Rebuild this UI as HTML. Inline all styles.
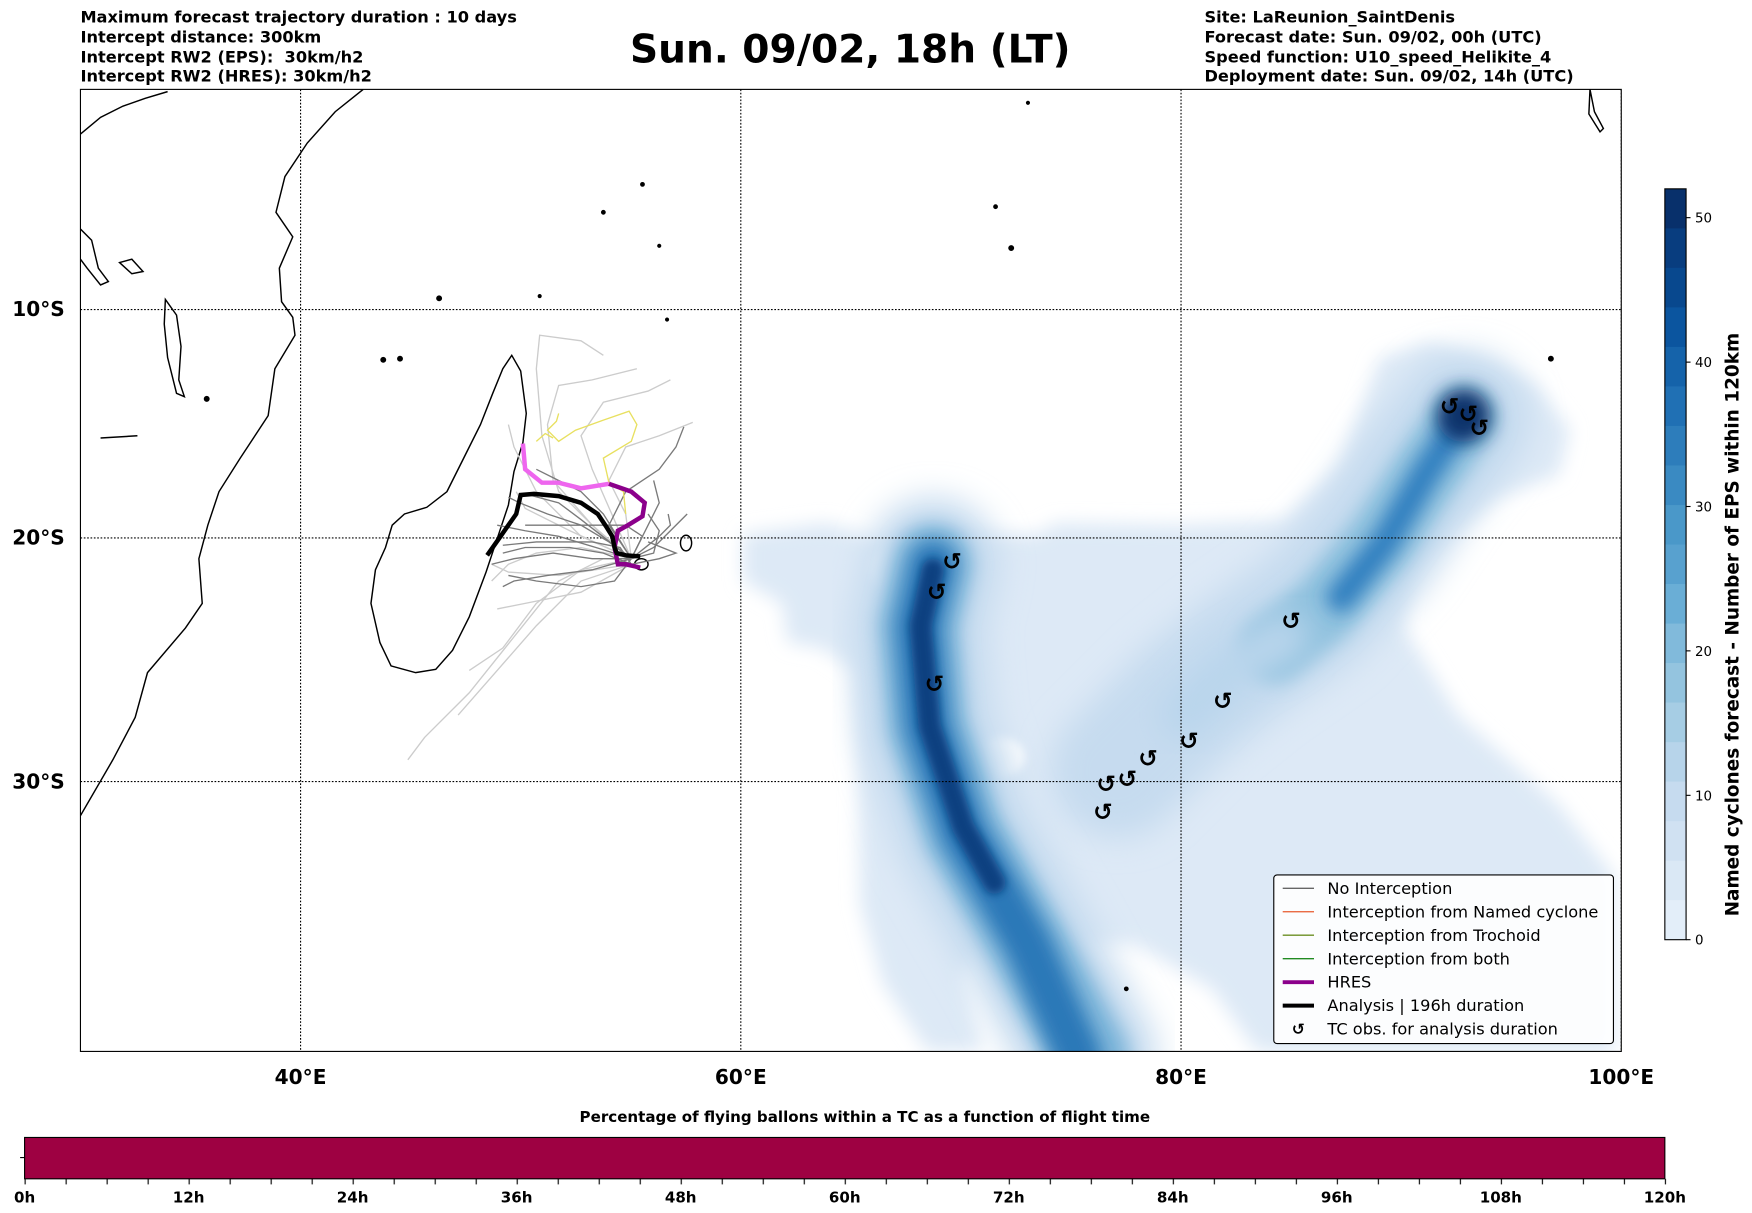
<!DOCTYPE html>
<html><head><meta charset="utf-8">
<style>
html,body{margin:0;padding:0;background:#fff;}
svg{display:block;font-family:"DejaVu Sans","Liberation Sans",sans-serif;}
</style></head>
<body>
<svg id="fig" width="1752" height="1213" viewBox="0 0 1568 1085.6" xmlns="http://www.w3.org/2000/svg">
<defs>
  <filter id="blur8" x="-50%" y="-50%" width="200%" height="200%"><feGaussianBlur stdDeviation="8"/></filter>
  <filter id="blur14" x="-50%" y="-50%" width="200%" height="200%"><feGaussianBlur stdDeviation="14"/></filter>
  <filter id="blur4" x="-50%" y="-50%" width="200%" height="200%"><feGaussianBlur stdDeviation="4"/></filter>
  <clipPath id="mapclip"><rect x="72" y="80" width="1379" height="861"/></clipPath>
  <pattern id="minorTicks" x="22" y="0" width="36.7" height="10" patternUnits="userSpaceOnUse">
    <line x1="0.5" y1="0" x2="0.5" y2="10" stroke="#000" stroke-width="1"/>
  </pattern>
</defs>

<g font-size="14.5" font-weight="bold">
  <text x="72" y="20">Maximum forecast trajectory duration : 10 days</text>
  <text x="72" y="38">Intercept distance: 300km</text>
  <text x="72" y="56" xml:space="preserve">Intercept RW2 (EPS):  30km/h2</text>
  <text x="72" y="73">Intercept RW2 (HRES): 30km/h2</text>
</g>
<text x="761" y="56" font-size="35" font-weight="bold" text-anchor="middle">Sun. 09/02, 18h (LT)</text>
<g font-size="14.5" font-weight="bold">
  <text x="1078" y="20">Site: LaReunion_SaintDenis</text>
  <text x="1078" y="38">Forecast date: Sun. 09/02, 00h (UTC)</text>
  <text x="1078" y="56">Speed function: U10_speed_Helikite_4</text>
  <text x="1078" y="73">Deployment date: Sun. 09/02, 14h (UTC)</text>
</g>

<g id="map" clip-path="url(#mapclip)">
  <rect x="72" y="80" width="1379" height="861" fill="#fff"/>
  <g>
    <path filter="url(#blur8)" fill="#dde9f6" d="M665,478 L740,468 L800,488 L835,478 L930,478 L945,468 L1060,470 L1150,465 L1200,415 L1235,320 L1280,306 L1335,325 L1375,345 L1405,385 L1395,425 L1340,445 L1300,475 L1265,505 L1255,560 L1305,640 L1395,720 L1445,785 L1445,941 L1125,941 L1085,885 L1015,845 L960,845 L900,820 L862,870 L880,941 L830,941 L790,880 L770,810 L768,700 L765,600 L735,580 L705,575 L700,540 L665,520 Z"/>
    <ellipse cx="895" cy="678" rx="22" ry="18" fill="#fff" filter="url(#blur4)"/>
    <ellipse cx="800" cy="510" rx="20" ry="22" fill="#fff" filter="url(#blur4)"/>
    <path filter="url(#blur14)" fill="none" stroke="#c6dbef" stroke-width="120" stroke-linecap="round" d="M1310,375 L1270,425 L1230,485 L1175,545 L1110,590 L1060,630 L1000,690"/>
    <path filter="url(#blur14)" fill="none" stroke="#c6dbef" stroke-width="120" stroke-linecap="round" d="M835,505 L822,560 L830,650 L862,745 L920,845 L975,945"/>
    <path filter="url(#blur8)" fill="none" stroke="#7fb6da" stroke-width="72" stroke-linecap="round" d="M835,505 L822,560 L830,650 L862,745 L920,845 L975,945"/>
    <path filter="url(#blur8)" fill="none" stroke="#2a78b8" stroke-width="42" stroke-linecap="round" d="M835,505 L822,560 L830,650 L862,745 L920,845 L965,945"/>
    <path filter="url(#blur4)" fill="none" stroke="#0a3f80" stroke-width="20" stroke-linecap="round" d="M835,510 L824,560 L832,650 L862,740 L890,790"/>
    <path filter="url(#blur8)" fill="none" stroke="#8fc1de" stroke-width="62" stroke-linecap="round" d="M1310,375 L1275,425 L1235,485 L1185,545 L1140,580"/>
    <path filter="url(#blur8)" fill="none" stroke="#3080c0" stroke-width="26" stroke-linecap="round" d="M1305,380 L1275,425 L1240,485 L1200,535"/>
    <circle cx="1310" cy="372" r="24" fill="#08306b" filter="url(#blur8)"/>
    <path filter="url(#blur14)" fill="none" stroke="#b9d5ec" stroke-width="44" stroke-linecap="round" d="M1150,570 L1100,600 L1060,640"/>
  </g>

  <g id="grid" stroke="#000" stroke-width="1" stroke-dasharray="1.5,1.5"></g>

  <g fill="none" stroke="#000" stroke-width="1.3">
    <path d="M325,80 L300,100 L275,128 L255,158 L247,190 L262,212 L250,240 L252,270 L262,284 L264,300 L246,330 L240,372 L215,410 L196,440 L186,470 L178,500 L181,540 L166,562 L132,602 L121,642 L101,680 L72,730"/>
    <path d="M458,318 L466,332 L471,370 L468,396 L460,422 L455,452 L445,482 L435,512 L420,552 L405,582 L390,599 L372,602 L350,596 L340,575 L332,540 L336,510 L345,490 L351,470 L362,460 L382,454 L400,440 L415,410 L430,380 L441,352 L450,330 Z"/>
    <path d="M72,205 L82,215 L88,240 L97,252 L90,255 L78,240 L72,232"/>
    <path d="M148,268 L158,282 L162,310 L160,340 L165,355 L158,352 L150,320 L147,290 Z"/>
    <path d="M107,235 L118,232 L128,243 L118,245 Z"/>
    <path d="M90,392 L123,390"/>
    <ellipse cx="614" cy="486" rx="5" ry="7"/>
    <ellipse cx="574" cy="505" rx="6" ry="5"/>
    <path d="M1423,80 L1427,100 L1435,115 L1432,118 L1422,102 Z"/>
    <path d="M72,120 L90,105 L110,95 L130,88 L150,82"/>
    <circle cx="1388" cy="321" r="2" fill="#000"/>
    <circle cx="891" cy="185" r="1.5" fill="#000"/>
    <circle cx="905" cy="222" r="2" fill="#000"/>
    <circle cx="920" cy="92" r="1.2" fill="#000"/>
    <circle cx="575" cy="165" r="1.5" fill="#000"/>
    <circle cx="540" cy="190" r="1.5" fill="#000"/>
    <circle cx="590" cy="220" r="1.2" fill="#000"/>
    <circle cx="343" cy="322" r="2" fill="#000"/>
    <circle cx="358" cy="321" r="2" fill="#000"/>
    <circle cx="393" cy="267" r="2" fill="#000"/>
    <circle cx="483" cy="265" r="1.2" fill="#000"/>
    <circle cx="597" cy="286" r="1.2" fill="#000"/>
    <circle cx="1008" cy="885" r="1.5" fill="#000"/>
    <circle cx="185" cy="357" r="2" fill="#000"/>
  </g>

  <g fill="none" stroke-width="1.2">
    <g stroke="#cccccc">
      <path d="M565,500 L540,480 L500,440 L485,390 L480,330 L483,300 L520,305 L540,318"/>
      <path d="M565,500 L530,470 L495,430 L490,380 L500,345 L530,340 L570,330"/>
      <path d="M565,500 L520,480 L480,440 L470,420 L460,400 L455,380"/>
      <path d="M565,500 L540,500 L500,520 L460,570 L420,620 L380,660 L365,680"/>
      <path d="M565,500 L520,510 L480,540 L450,580 L420,600"/>
      <path d="M565,505 L520,520 L480,560 L445,600 L410,640"/>
      <path d="M565,500 L560,460 L545,430 L560,400 L590,390 L615,380 L620,378"/>
      <path d="M565,500 L520,490 L480,495 L455,505 L440,520"/>
      <path d="M565,500 L510,475 L470,455 L462,440"/>
      <path d="M565,505 L500,515 L455,512 L440,505"/>
      <path d="M565,500 L530,420 L520,390 L540,360 L580,350 L600,340"/>
      <path d="M565,505 L520,530 L470,540 L445,545"/>
    </g>
    <g stroke="#7a7a7a">
      <path d="M565,500 L545,485 L520,470 L490,460 L465,450 L455,445"/>
      <path d="M565,500 L540,492 L500,480 L470,475 L445,470"/>
      <path d="M565,500 L530,500 L495,495 L460,500 L440,505"/>
      <path d="M565,500 L545,470 L560,440 L590,420 L605,400 L612,382"/>
      <path d="M565,500 L580,470 L590,450 L585,430"/>
      <path d="M565,500 L590,480 L600,470 L598,460"/>
      <path d="M565,500 L530,510 L490,515 L460,520 L450,525"/>
      <path d="M565,505 L540,495 L510,490 L470,490 L450,495"/>
      <path d="M565,500 L575,480 L560,470 L530,470 L500,470 L470,470"/>
      <path d="M565,500 L550,520 L520,525 L480,520 L455,515"/>
      <path d="M565,500 L540,460 L520,440 L500,430 L480,420"/>
      <path d="M565,500 L585,495 L590,475 L580,460"/>
      <path d="M565,505 L555,490 L530,485 L480,485 L450,488"/>
      <path d="M565,500 L520,465 L500,450 L470,442"/>
      <path d="M565,500 L585,490 L600,475 L615,460"/>
      <path d="M565,505 L590,500 L605,495 L580,485"/>
    </g>
    <path stroke="#e8e060" d="M560,460 L558,440 L545,432 L540,410 L565,395 L570,380 L563,368 L540,376 L515,385 L500,395 L490,385 L498,377 L500,370"/>
    <path stroke="#e8e060" d="M480,395 L488,388 L495,392"/>
  </g>
  <path fill="none" stroke="#ee66ee" stroke-width="4" d="M468,397 L470,420 L485,432 L500,432 L520,437 L545,433"/>
  <path fill="none" stroke="#8b008b" stroke-width="4" d="M545,433 L565,440 L577,450 L575,462 L562,470 L553,475 L550,490 L553,505 L560,505 L573,508"/>
  <path fill="none" stroke="#000" stroke-width="4" d="M436,497 L448,480 L462,460 L466,443 L478,442 L500,444 L520,450 L535,460 L543,472 L548,480 L550,490 L552,495 L560,497 L573,498"/>

  <g id="tcobs"></g>
</g>
<rect x="72" y="80" width="1379" height="861" fill="none" stroke="#000" stroke-width="1"/>
<g id="axislabels" font-size="18" font-weight="bold"></g>

<g font-size="14.5">
  <rect x="1140" y="783" width="304" height="151" rx="3" fill="#fff" fill-opacity="0.9" stroke="#000" stroke-width="1"/>
  <g><line x1="1148" y1="795" x2="1176" y2="795" stroke="#666" stroke-width="1.2"/><text x="1188" y="800">No Interception</text></g>
  <g><line x1="1148" y1="816" x2="1176" y2="816" stroke="#e8582c" stroke-width="1.2"/><text x="1188" y="821">Interception from Named cyclone</text></g>
  <g><line x1="1148" y1="837" x2="1176" y2="837" stroke="#6b8e23" stroke-width="1.2"/><text x="1188" y="842">Interception from Trochoid</text></g>
  <g><line x1="1148" y1="858" x2="1176" y2="858" stroke="#228b22" stroke-width="1.2"/><text x="1188" y="863">Interception from both</text></g>
  <g><line x1="1148" y1="879" x2="1176" y2="879" stroke="#8b008b" stroke-width="3.5"/><text x="1188" y="884">HRES</text></g>
  <g><line x1="1148" y1="900" x2="1176" y2="900" stroke="#000" stroke-width="3.5"/><text x="1188" y="905">Analysis | 196h duration</text></g>
  <g><text x="1162" y="926" font-weight="bold" font-size="14" text-anchor="middle">↺</text><text x="1188" y="926">TC obs. for analysis duration</text></g>
</g>

<g>
  <rect x="1490" y="169" width="19" height="36" fill="#08306b"/>
  <rect x="1490" y="204.4" width="19" height="36" fill="#083d7f"/>
  <rect x="1490" y="239.7" width="19" height="36" fill="#08488e"/>
  <rect x="1490" y="275.1" width="19" height="36" fill="#0b559f"/>
  <rect x="1490" y="310.5" width="19" height="36" fill="#1563aa"/>
  <rect x="1490" y="345.8" width="19" height="36" fill="#2070b4"/>
  <rect x="1490" y="381.2" width="19" height="36" fill="#2d7dbb"/>
  <rect x="1490" y="416.6" width="19" height="36" fill="#3a8ac2"/>
  <rect x="1490" y="452.0" width="19" height="36" fill="#4a98c9"/>
  <rect x="1490" y="487.3" width="19" height="36" fill="#58a1cf"/>
  <rect x="1490" y="522.7" width="19" height="36" fill="#6aaed6"/>
  <rect x="1490" y="558.1" width="19" height="36" fill="#81badb"/>
  <rect x="1490" y="593.4" width="19" height="36" fill="#94c4df"/>
  <rect x="1490" y="628.8" width="19" height="36" fill="#a6cde4"/>
  <rect x="1490" y="664.2" width="19" height="36" fill="#b7d4ea"/>
  <rect x="1490" y="699.5" width="19" height="36" fill="#c6dbef"/>
  <rect x="1490" y="734.9" width="19" height="36" fill="#d0e1f2"/>
  <rect x="1490" y="770.3" width="19" height="36" fill="#dae8f5"/>
  <rect x="1490" y="805.6" width="19" height="35.4" fill="#e3eef9"/>
  <rect x="1490" y="169" width="19" height="672" fill="none" stroke="#000" stroke-width="1"/>
  <g stroke="#000" stroke-width="1">
    <line x1="1509" y1="841" x2="1513" y2="841"/>
    <line x1="1509" y1="711.8" x2="1513" y2="711.8"/>
    <line x1="1509" y1="582.5" x2="1513" y2="582.5"/>
    <line x1="1509" y1="453.3" x2="1513" y2="453.3"/>
    <line x1="1509" y1="324.1" x2="1513" y2="324.1"/>
    <line x1="1509" y1="194.8" x2="1513" y2="194.8"/>
  </g>
  <g font-size="12">
    <text x="1517" y="845.5">0</text>
    <text x="1517" y="716.3">10</text>
    <text x="1517" y="587">20</text>
    <text x="1517" y="457.8">30</text>
    <text x="1517" y="328.6">40</text>
    <text x="1517" y="199.3">50</text>
  </g>
</g>
<text transform="translate(1556,559) rotate(-90)" font-size="16.5" font-weight="bold" text-anchor="middle">Named cyclones forecast - Number of EPS within 120km</text>

<text x="774" y="1004" font-size="13.5" font-weight="bold" text-anchor="middle">Percentage of flying ballons within a TC as a function of flight time</text>
<rect x="22" y="1018" width="1468" height="37" fill="#9e0142" stroke="#000" stroke-width="1"/>
<line x1="18" y1="1036" x2="22" y2="1036" stroke="#000"/>
<g>
  <rect x="21.5" y="1055" width="1470" height="5" fill="url(#minorTicks)"/>
  <g font-size="13.5" font-weight="bold" text-anchor="middle">
    <text x="22" y="1076">0h</text>
    <text x="168.8" y="1076">12h</text>
    <text x="315.6" y="1076">24h</text>
    <text x="462.4" y="1076">36h</text>
    <text x="609.2" y="1076">48h</text>
    <text x="756" y="1076">60h</text>
    <text x="902.8" y="1076">72h</text>
    <text x="1049.6" y="1076">84h</text>
    <text x="1196.4" y="1076">96h</text>
    <text x="1343.2" y="1076">108h</text>
    <text x="1490" y="1076">120h</text>
  </g>
</g>
</svg>

<script>
const lonTicks = [40, 60, 80, 100];
const latTicks = [10, 20, 30];
const tcLon = [92.2, 93.05, 93.55, 69.6, 68.9, 68.8, 85.0, 81.9, 80.36, 78.5, 77.56, 76.6, 76.45];
const tcLat = [14.3, 14.65, 15.25, 21.0, 22.3, 26.1, 23.5, 26.8, 28.4, 29.1, 29.9, 30.1, 31.2];

const NS = "http://www.w3.org/2000/svg";
function X(lon){ return 72 + (lon - 30) * 19.7; }
function Y(latS){ const r = latS * Math.PI / 180; const M = Math.log(Math.tan(Math.PI/4 + r/2)); return 277 + 1130 * (M - 0.17543); }
function mk(tag, attrs, parent){ const e = document.createElementNS(NS, tag); for (const k in attrs) e.setAttribute(k, String(attrs[k])); parent.appendChild(e); return e; }

const grid = document.getElementById('grid');
lonTicks.forEach(function(l){
  const ln = mk('line', {x1: X(l), x2: X(l), y1: 80, y2: 941}, grid);
  
  
});
latTicks.forEach(function(l){
  const ln = mk('line', {x1: 72, x2: 1451, y1: Y(l), y2: Y(l)}, grid);
  
  
});
const al = document.getElementById('axislabels');
lonTicks.forEach(function(l){
  const t = mk('text', {x: X(l), y: 970, 'text-anchor': 'middle'}, al);
  t.textContent = l + '°E';
  
  
});
latTicks.forEach(function(l){
  const t = mk('text', {x: 58, y: Y(l) + 6, 'text-anchor': 'end'}, al);
  t.textContent = l + '°S';
  
  
});

const tcg = document.getElementById('tcobs');
tcLon.forEach(function(lon, i){
  const t = mk('text', {x: X(lon), y: Y(tcLat[i]) + 7, 'text-anchor': 'middle', 'font-size': 21, 'font-weight': 'bold'}, tcg);
  t.textContent = '↺';
  
  
});
</script>
</body></html>
